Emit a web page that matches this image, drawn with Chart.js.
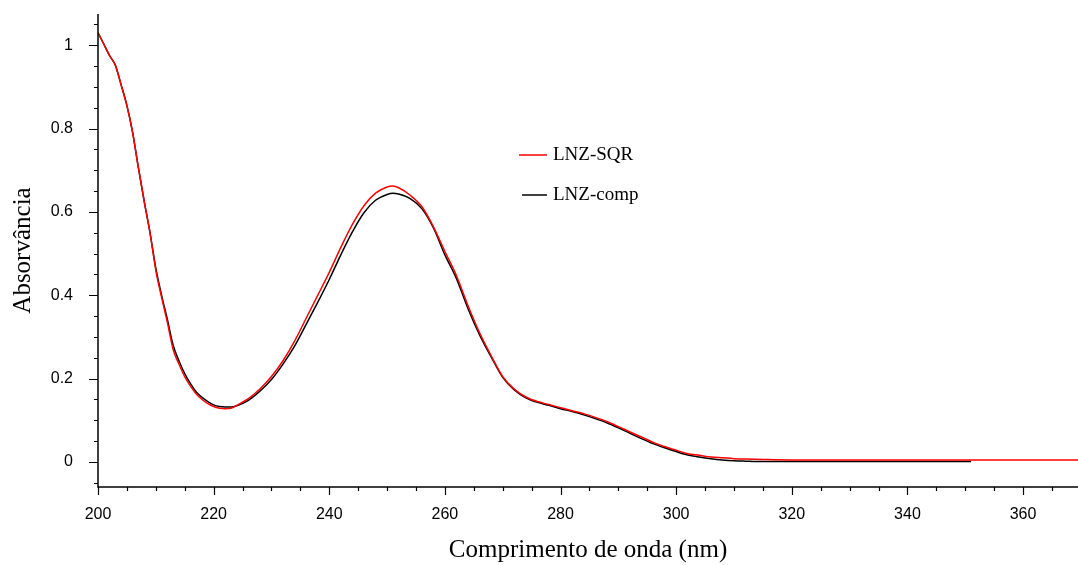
<!DOCTYPE html>
<html>
<head>
<meta charset="utf-8">
<script src="https://cdn.jsdelivr.net/npm/chart.js@4/dist/chart.umd.min.js"></script>
<style>
  body { margin: 0; background: #fff; }
  #wrap { width: 1078px; height: 565px; }
</style>
</head>
<body>
<div id="wrap"><canvas id="specChart"></canvas></div>
<script>
// LNZ-SQR spectrum (red)
const sqrWavelength = [200, 201, 202, 203, 204, 205, 206, 207, 208, 209, 210, 211, 212, 213, 214, 215, 216, 217, 218, 219,
  220, 221, 222, 223, 224, 226, 228, 230, 232, 234, 236, 238, 240, 242, 244, 246, 248, 250, 251, 252, 254, 256, 258,
  260, 262, 264, 266, 268, 270, 272, 274, 276, 278, 280, 282, 284, 286, 288, 290, 292, 294, 296, 298, 300, 302, 304,
  306, 308, 310, 312, 315, 320, 330, 340, 350, 360, 370];
const sqrAbsorbance = [1.03, 1.003, 0.975, 0.952, 0.905, 0.855, 0.79, 0.705, 0.625, 0.55, 0.46, 0.395, 0.335, 0.27, 0.235,
  0.205, 0.182, 0.163, 0.15, 0.14, 0.133, 0.129, 0.128, 0.129, 0.136, 0.152, 0.175, 0.205, 0.243, 0.29, 0.345, 0.4,
  0.455, 0.515, 0.57, 0.615, 0.645, 0.66, 0.662, 0.658, 0.64, 0.613, 0.565, 0.505, 0.447, 0.375, 0.31, 0.255, 0.205,
  0.175, 0.156, 0.145, 0.138, 0.13, 0.123, 0.116, 0.107, 0.097, 0.085, 0.072, 0.06, 0.047, 0.037, 0.028, 0.02, 0.016,
  0.012, 0.01, 0.008, 0.007, 0.006, 0.005, 0.005, 0.005, 0.005, 0.005, 0.005];

// LNZ-comp spectrum (black)
const compWavelength = [200, 201, 202, 203, 204, 205, 206, 207, 208, 209, 210, 211, 212, 213, 214, 215, 216, 217, 218, 219,
  220, 221, 222, 223, 224, 226, 228, 230, 232, 234, 236, 238, 240, 242, 244, 246, 248, 250, 251, 252, 254, 256, 258,
  260, 262, 264, 266, 268, 270, 272, 274, 276, 278, 280, 282, 284, 286, 288, 290, 292, 294, 296, 298, 300, 302, 304,
  306, 308, 310, 312, 315, 320, 330, 340, 351];
const compAbsorbance = [1.03, 1.003, 0.975, 0.952, 0.905, 0.855, 0.79, 0.705, 0.625, 0.55, 0.465, 0.4, 0.342, 0.28, 0.243,
  0.212, 0.188, 0.168, 0.155, 0.145, 0.137, 0.133, 0.132, 0.132, 0.135, 0.148, 0.17, 0.198, 0.235, 0.278, 0.33, 0.383,
  0.438, 0.497, 0.552, 0.598, 0.628, 0.642, 0.645, 0.643, 0.632, 0.608, 0.562, 0.497, 0.44, 0.368, 0.305, 0.252, 0.203,
  0.173, 0.154, 0.143, 0.136, 0.128, 0.121, 0.113, 0.104, 0.094, 0.082, 0.069, 0.056, 0.044, 0.034, 0.025, 0.017, 0.012,
  0.008, 0.005, 0.003, 0.002, 0.001, 0.001, 0.001, 0.001, 0.001];

const xTickLabels = [200, 220, 240, 260, 280, 300, 320, 340, 360];
const yTickLabels = [0, 0.2, 0.4, 0.6, 0.8, 1];
const xMinorStep = 5;
const yMinorStep = 0.05;

function toPoints(xs, ys) {
  return xs.map((x, i) => ({ x: x, y: ys[i] }));
}

// axis lines, major/minor tick marks and the in-plot legend
const axisDecor = {
  id: 'axisDecor',
  afterDraw(chart) {
    const ctx = chart.ctx;
    const xs = chart.scales.x, ys = chart.scales.y;
    const area = chart.chartArea;
    ctx.save();
    ctx.strokeStyle = '#000';
    ctx.lineWidth = 1.5;
    ctx.beginPath();
    ctx.moveTo(area.left, area.top);
    ctx.lineTo(area.left, area.bottom);
    ctx.lineTo(area.right, area.bottom);
    ctx.stroke();

    ctx.lineWidth = 1.2;
    ctx.beginPath();
    for (let v = xs.min; v <= xs.max + 1e-9; v += xMinorStep) {
      const px = Math.round(xs.getPixelForValue(v)) + 0.5;
      const major = xTickLabels.includes(Math.round(v));
      ctx.moveTo(px, area.bottom);
      ctx.lineTo(px, area.bottom + (major ? 8 : 4));
    }
    const yStart = Math.ceil(ys.min / yMinorStep) * yMinorStep;
    for (let v = yStart; v <= ys.max + 1e-9; v += yMinorStep) {
      const py = Math.round(ys.getPixelForValue(v)) + 0.5;
      const major = yTickLabels.some(t => Math.abs(t - v) < 1e-6);
      ctx.moveTo(area.left, py);
      ctx.lineTo(area.left - (major ? 9 : 4), py);
    }
    ctx.stroke();

    // legend
    const legendPos = [{ x1: 519, x2: 547, y: 155 }, { x1: 522, x2: 547, y: 195 }];
    ctx.font = '19px "Liberation Serif"';
    ctx.textBaseline = 'middle';
    ctx.fillStyle = '#000';
    chart.data.datasets.forEach((ds, i) => {
      const p = legendPos[i];
      ctx.strokeStyle = ds.borderColor;
      ctx.lineWidth = 1.5;
      ctx.beginPath();
      ctx.moveTo(p.x1, p.y);
      ctx.lineTo(p.x2, p.y);
      ctx.stroke();
      ctx.fillText(ds.label, p.x2 + 6, p.y);
    });
    ctx.restore();
  }
};

const ctx = document.getElementById('specChart').getContext('2d');
const specChart = new Chart(ctx, {
  type: 'line',
  data: {
    datasets: [{
      label: 'LNZ-SQR',
      data: toPoints(sqrWavelength, sqrAbsorbance),
      borderColor: '#ff0000',
      borderWidth: 1.5,
      pointRadius: 0,
      cubicInterpolationMode: 'monotone'
    }, {
      label: 'LNZ-comp',
      data: toPoints(compWavelength, compAbsorbance),
      borderColor: '#000000',
      borderWidth: 1.5,
      pointRadius: 0,
      cubicInterpolationMode: 'monotone'
    }]
  },
  options: {
    responsive: true,
    maintainAspectRatio: false,
    animation: false,
    layout: { padding: { top: 14, right: 0, left: 0, bottom: 0 } },
    plugins: {
      legend: { display: false },
      tooltip: { enabled: false }
    },
    scales: {
      x: {
        type: 'linear',
        min: 200,
        max: 369.5,
        grid: { display: false },
        border: { display: false },
        afterBuildTicks: s => { s.ticks = xTickLabels.map(v => ({ value: v })); },
        afterFit: s => { s.height = 78; s.paddingLeft = 0; s.paddingRight = 0; },
        ticks: {
          autoSkip: false,
          maxRotation: 0,
          padding: 10,
          color: '#000',
          font: { family: '"Liberation Sans", Arial', size: 16 }
        },
        title: {
          display: true,
          text: 'Comprimento de onda (nm)',
          color: '#000',
          padding: { top: 0, bottom: 0 },
          font: { family: '"Liberation Serif"', size: 25 }
        }
      },
      y: {
        type: 'linear',
        min: -0.06,
        max: 1.075,
        grid: { display: false },
        border: { display: false },
        afterBuildTicks: s => { s.ticks = yTickLabels.map(v => ({ value: v })); },
        afterFit: s => { s.width = 98; s.paddingTop = 0; s.paddingBottom = 0; },
        ticks: {
          autoSkip: false,
          padding: 17,
          color: '#000',
          font: { family: '"Liberation Sans", Arial', size: 16 },
          callback: v => String(v)
        },
        title: {
          display: true,
          text: 'Absorvância',
          color: '#000',
          padding: { top: 8, bottom: 0 },
          font: { family: '"Liberation Serif"', size: 25 }
        }
      }
    }
  },
  plugins: [axisDecor]
});
</script>
</body>
</html>
